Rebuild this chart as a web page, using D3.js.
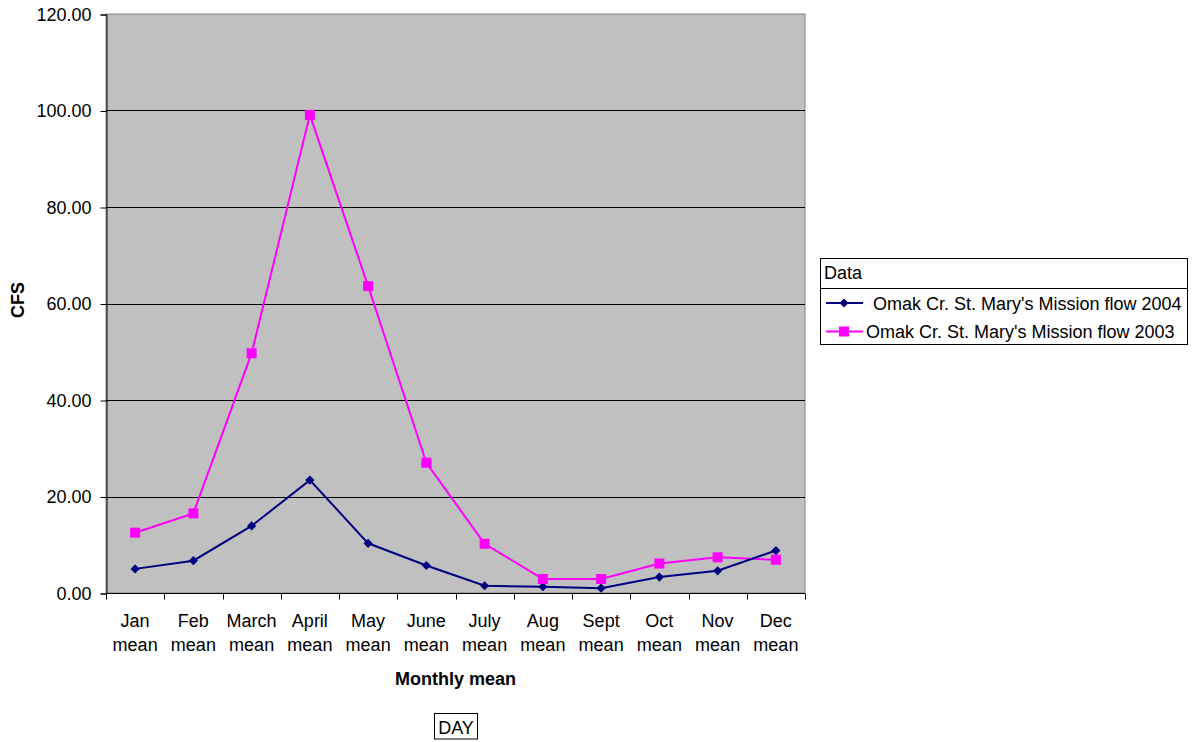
<!DOCTYPE html>
<html>
<head>
<meta charset="utf-8">
<script src="https://cdn.jsdelivr.net/npm/d3@7"></script>
<style>
  html, body { margin: 0; padding: 0; background: #fff; }
  svg { display: block; font-family: Arial, "Liberation Sans", sans-serif; }
</style>
</head>
<body>
<svg id="chart" width="1193" height="742"></svg>
<script>
// Monthly mean flow (CFS), Omak Creek at St. Mary's Mission
const months = ["Jan", "Feb", "March", "April", "May", "June", "July", "Aug", "Sept", "Oct", "Nov", "Dec"];
const flow2004 = [5.0, 6.7, 13.9, 23.4, 10.3, 5.7, 1.5, 1.3, 1.0, 3.3, 4.6, 8.8];
const flow2003 = [12.5, 16.5, 49.7, 99.1, 63.6, 27.0, 10.2, 2.9, 2.9, 6.1, 7.4, 6.9];
const yTicks = [0, 20, 40, 60, 80, 100, 120];
const seriesNames = ["Omak Cr. St. Mary's Mission flow 2004", "Omak Cr. St. Mary's Mission flow 2003"];

const FONT = 18;
const svg = d3.select("#chart");
const plot = { left: 106, right: 805, top: 14, bottom: 593 };

const x = d3.scaleBand().domain(months).range([plot.left, plot.right]).paddingInner(0).paddingOuter(0);
const y = d3.scaleLinear().domain([0, 120]).range([plot.bottom, plot.top]);

// plot area background
svg.append("rect")
  .attr("x", plot.left).attr("y", plot.top)
  .attr("width", plot.right - plot.left).attr("height", plot.bottom - plot.top)
  .attr("fill", "#c0c0c0").attr("stroke", "#808080").attr("stroke-width", 1);

// horizontal gridlines
svg.append("g").selectAll("line")
  .data(yTicks.filter(d => d > 0 && d < 120))
  .join("line")
  .attr("x1", plot.left).attr("x2", plot.right)
  .attr("y1", d => Math.round(y(d)) + 0.5).attr("y2", d => Math.round(y(d)) + 0.5)
  .attr("stroke", "#000").attr("stroke-width", 1);

// y axis
const yAxis = d3.axisLeft(y).tickValues(yTicks).tickFormat(d3.format(".2f")).tickSize(6).tickPadding(9);
const gy = svg.append("g").attr("transform", `translate(${plot.left + 0.5},0.5)`).call(yAxis);
gy.select(".domain").attr("stroke", "#000");
gy.selectAll(".tick line").attr("stroke", "#000");
gy.selectAll(".tick text").attr("font-size", FONT).attr("fill", "#000")
  .attr("font-family", "Arial, 'Liberation Sans', sans-serif");

// x axis: ticks at category boundaries
const gx = svg.append("g").attr("transform", `translate(0,${plot.bottom + 0.5})`);
gx.append("line").attr("x1", plot.left).attr("x2", plot.right).attr("stroke", "#000");
const boundaries = months.map(m => x(m)).concat([plot.right]);
gx.selectAll("line.tk").data(boundaries).join("line").attr("class", "tk")
  .attr("x1", d => Math.round(d) + 0.5).attr("x2", d => Math.round(d) + 0.5)
  .attr("y1", 0).attr("y2", 6).attr("stroke", "#000");
const lab = gx.selectAll("text.cat").data(months).join("text").attr("class", "cat")
  .attr("x", d => x(d) + x.bandwidth() / 2)
  .attr("text-anchor", "middle").attr("font-size", FONT).attr("fill", "#000");
lab.append("tspan").attr("x", d => x(d) + x.bandwidth() / 2).attr("y", 33).text(d => d);
lab.append("tspan").attr("x", d => x(d) + x.bandwidth() / 2).attr("y", 57).text("mean");

// axis titles
svg.append("text").attr("x", (plot.left + plot.right) / 2).attr("y", 685)
  .attr("text-anchor", "middle").attr("font-size", FONT).attr("font-weight", "bold").text("Monthly mean");
svg.append("text").attr("transform", "translate(24,300) rotate(-90)")
  .attr("text-anchor", "middle").attr("font-size", FONT).attr("font-weight", "bold").text("CFS");

// field button
svg.append("rect").attr("x", 434.5).attr("y", 713.5).attr("width", 43).attr("height", 25.5)
  .attr("fill", "#fff").attr("stroke", "#000");
svg.append("text").attr("x", 456).attr("y", 734).attr("text-anchor", "middle").attr("font-size", FONT).text("DAY");

// series
const cx = m => x(m) + x.bandwidth() / 2;
const line = d3.line().x((d, i) => cx(months[i])).y(d => y(d));

svg.append("path").datum(flow2003).attr("d", line)
  .attr("fill", "none").attr("stroke", "#ff00ff").attr("stroke-width", 2);
svg.append("path").datum(flow2004).attr("d", line)
  .attr("fill", "none").attr("stroke", "#000080").attr("stroke-width", 2);

const diamond = d3.symbol().type(d3.symbolDiamond2).size(54);
svg.append("g").selectAll("path").data(flow2004).join("path")
  .attr("d", diamond)
  .attr("transform", (d, i) => `translate(${cx(months[i])},${y(d)})`)
  .attr("fill", "#000080");

svg.append("g").selectAll("rect").data(flow2003).join("rect")
  .attr("x", (d, i) => cx(months[i]) - 5).attr("y", d => y(d) - 5)
  .attr("width", 10).attr("height", 10).attr("fill", "#ff00ff");

// legend
const lg = svg.append("g");
lg.append("rect").attr("x", 820.5).attr("y", 258.5).attr("width", 367).attr("height", 86)
  .attr("fill", "#fff").attr("stroke", "#000");
lg.append("line").attr("x1", 820).attr("x2", 1188).attr("y1", 288.5).attr("y2", 288.5).attr("stroke", "#000");
lg.append("text").attr("x", 824).attr("y", 279).attr("font-size", FONT).text("Data");

const legendRows = [
  { name: seriesNames[0], color: "#000080", shape: "diamond", y: 303, tx: 873 },
  { name: seriesNames[1], color: "#ff00ff", shape: "square", y: 331.5, tx: 866 }
];
legendRows.forEach(r => {
  lg.append("line").attr("x1", 826).attr("x2", 863).attr("y1", r.y).attr("y2", r.y)
    .attr("stroke", r.color).attr("stroke-width", 2);
  if (r.shape === "diamond") {
    lg.append("path").attr("d", diamond).attr("transform", `translate(844,${r.y})`).attr("fill", r.color);
  } else {
    lg.append("rect").attr("x", 839).attr("y", r.y - 5).attr("width", 10).attr("height", 10).attr("fill", r.color);
  }
  lg.append("text").attr("x", r.tx).attr("y", r.y + 6.5).attr("font-size", FONT).text(r.name);
});
</script>
</body>
</html>
